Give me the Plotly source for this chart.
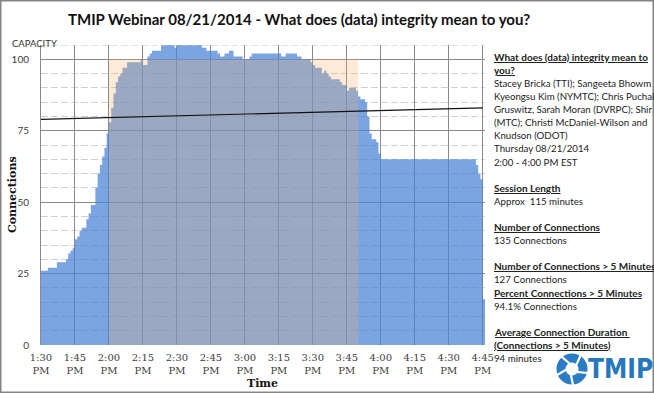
import math
import plotly.graph_objects as go
import pandas as pd

# ---------------- data ----------------
start_time = "2014-08-21 13:30"
# connections per minute, 1:30 PM .. 4:45 PM (one row per 15 minutes)
connections = [
    26, 26, 26, 27, 27, 27, 27, 29, 29, 29, 29, 30, 32, 33, 34,              # 1:30
    37, 38, 40, 41, 41, 44, 46, 49, 49, 55, 60, 63, 66, 69, 74,              # 1:45
    78, 83, 88, 92, 94, 95, 97, 97, 99, 99, 99, 99, 99, 99, 100,             # 2:00
    98, 98, 101, 102, 103, 103, 103, 103, 105, 105, 105, 105, 105, 105, 104, # 2:15
    105, 105, 105, 105, 105, 105, 105, 105, 105, 105, 105, 104, 104, 103, 103,  # 2:30
    103, 103, 103, 102, 101, 101, 102, 102, 103, 103, 101, 101, 101, 101, 100,  # 2:45
    100, 100, 101, 102, 102, 102, 102, 102, 102, 102, 102, 102, 102, 102, 102,  # 3:00
    102, 101, 101, 102, 102, 102, 102, 102, 101, 101, 100, 100, 100, 100, 99,   # 3:15
    98, 97, 97, 97, 95, 96, 95, 94, 93, 93, 93, 93, 92, 91, 91,              # 3:30
    89, 90, 90, 90, 89, 87, 86, 86, 85, 80, 74, 72, 72, 71, 67,              # 3:45
    65, 65, 65, 65, 65, 65, 65, 65, 65, 65, 65, 65, 65, 65, 65,              # 4:00
    65, 65, 65, 65, 65, 65, 65, 65, 65, 65, 65, 65, 65, 65, 65,              # 4:15
    65, 65, 65, 65, 65, 65, 65, 65, 65, 65, 65, 65, 63, 60, 58,              # 4:30
    16,                                                                      # 4:45
]
session_times = ["2014-08-21 14:00", "2014-08-21 15:50"]
session_level = 100
capacity = 105
trend_times = ["2014-08-21 13:30", "2014-08-21 16:45"]
trend_values = [79, 83]
axis_range = ["2014-08-21 13:30", "2014-08-21 16:46"]
y_ticks = [0, 25, 50, 75, 100]

title = "TMIP Webinar 08/21/2014 - What does (data) integrity mean to you?"
info_lines = [
    ("What does (data) integrity mean to", True),
    ("you?", True),
    ("Stacey Bricka (TTI); Sangeeta Bhowm", False),
    ("Kyeongsu Kim (NYMTC); Chris Puchal", False),
    ("Gruswitz, Sarah Moran (DVRPC); Shir", False),
    ("(MTC); Christi McDaniel-Wilson and", False),
    ("Knudson (ODOT)", False),
    ("Thursday 08/21/2014", False),
    ("2:00 - 4:00 PM EST", False),
    ("", False),
    ("Session Length", True),
    ("Approx  115 minutes", False),
    ("", False),
    ("Number of Connections", True),
    ("135 Connections", False),
    ("", False),
    ("Number of Connections > 5 Minutes", True),
    ("127 Connections", False),
    ("Percent Connections > 5 Minutes", True),
    ("94.1% Connections", False),
    ("", False),
    ("Average Connection Duration ", True),
    ("(Connections > 5 Minutes)", True),
    ("94 minutes", False),
]
logo_text = "TMIP"

# ---------------- figure ----------------
W, H = 654, 393
ML, MR, MT, MB = 41, 169, 45, 48
PW, PH = W - ML - MR, H - MT - MB

def px(x):  # pixel -> paper x
    return (x - ML) / PW

def py(y):  # pixel -> paper y
    return (H - MB - y) / PH

times = list(pd.date_range(start_time, periods=len(connections), freq="min"))
x_step = times + [pd.Timestamp(axis_range[1])]
y_step = connections + [connections[-1]]

fig = go.Figure()
fig.add_trace(go.Scatter(
    x=x_step, y=y_step, mode="lines", line=dict(width=0, shape="hv"),
    fill="tozeroy", fillcolor="rgba(72,130,214,0.72)", hoverinfo="skip",
    showlegend=False))
fig.add_trace(go.Scatter(
    x=[session_times[0], session_times[0], session_times[1], session_times[1]],
    y=[0, session_level, session_level, 0], mode="lines",
    line=dict(width=0), fill="toself", fillcolor="rgba(247,177,103,0.26)",
    hoverinfo="skip", showlegend=False))
fig.add_trace(go.Scatter(
    x=trend_times, y=trend_values, mode="lines",
    line=dict(color="#111111", width=1.2), hoverinfo="skip", showlegend=False))
fig.add_trace(go.Scatter(
    x=[axis_range[0], axis_range[1]], y=[capacity, capacity], mode="lines",
    line=dict(color="#C8C8C8", width=1, dash="7px,3px"), hoverinfo="skip",
    showlegend=False, cliponaxis=False))

grid = "#8A8A8A"
fig.update_layout(
    width=W, height=H, margin=dict(l=ML, r=MR, t=MT, b=MB),
    paper_bgcolor="white", plot_bgcolor="white",
    xaxis=dict(type="date", range=axis_range, tick0=start_time,
               dtick=15 * 60 * 1000, tickformat="%-I:%M<br>%p",
               showgrid=True, gridcolor=grid, gridwidth=1, zeroline=False,
               showline=False, ticks="", ticklabelstandoff=5,
               tickfont=dict(family="DejaVu Serif", size=10, color="#404040")),
    yaxis=dict(range=[0, capacity], tickvals=y_ticks, showgrid=True,
               gridcolor=grid, gridwidth=1, zeroline=False,
               showline=True, linecolor=grid, linewidth=1, ticks="",
               ticklabelstandoff=9,
               minor=dict(dtick=5, tick0=0, showgrid=True, gridcolor="#D0D0D0",
                          griddash="7px,3px", gridwidth=1),
               tickfont=dict(family="Lato", size=10, color="#404040")),
)

ann = []
ann.append(dict(text="<b>" + title + "</b>", x=px(299), y=py(19), xref="paper", yref="paper",
                showarrow=False, xanchor="center", yanchor="middle",
                font=dict(family="Lato", size=15, color="#111111")))
ann.append(dict(text="CAPACITY", x=px(10), y=py(43), xref="paper", yref="paper",
                showarrow=False, xanchor="left", yanchor="middle",
                font=dict(family="Lato", size=9.5, color="#333333")))
ann.append(dict(text="<b>Connections</b>", x=px(12), y=0.5, xref="paper", yref="paper",
                showarrow=False, textangle=-90, xanchor="center", yanchor="middle",
                font=dict(family="DejaVu Serif", size=11, color="#111111")))
ann.append(dict(text="<b>Time</b>", x=px(262), y=py(383), xref="paper", yref="paper",
                showarrow=False, xanchor="center", yanchor="middle",
                font=dict(family="DejaVu Serif", size=11, color="#111111")))
for i, (txt, hdr) in enumerate(info_lines):
    if not txt:
        continue
    if hdr:
        t = "<b><span style='text-decoration:underline'>" + txt + "</span></b>"
        fs = 10
    else:
        t = txt
        fs = 9.7
    ann.append(dict(text=t, x=px(492), y=py(56.7 + 13.1 * i), xref="paper", yref="paper",
                    showarrow=False, xanchor="left", yanchor="middle",
                    font=dict(family="Lato", size=fs, color="#222222")))
# logo text
ann.append(dict(text="<b>" + logo_text + "</b>", x=px(586), y=py(369), xref="paper", yref="paper",
                showarrow=False, xanchor="left", yanchor="middle",
                font=dict(family="DejaVu Sans Condensed", size=26, color="#2577BE")))
fig.update_layout(annotations=ann)

shapes = []
# logo icon: blue wheel with white centre and white spokes
cx, cy, r = 572, 369, 15.5
shapes.append(dict(type="circle", xref="paper", yref="paper",
                   x0=px(cx - r), x1=px(cx + r), y0=py(cy + r), y1=py(cy - r),
                   fillcolor="#2A7CC4", line=dict(width=0)))
for k in range(5):
    a = math.radians(90 + 72 * k + 20)
    shapes.append(dict(type="line", xref="paper", yref="paper",
                       x0=px(cx + 5 * math.cos(a)), y0=py(cy - 5 * math.sin(a)),
                       x1=px(cx + (r + 1) * math.cos(a + 0.35)),
                       y1=py(cy - (r + 1) * math.sin(a + 0.35)),
                       line=dict(color="white", width=2.2)))
shapes.append(dict(type="circle", xref="paper", yref="paper",
                   x0=px(cx - 6.5), x1=px(cx + 6.5), y0=py(cy + 6.5), y1=py(cy - 6.5),
                   fillcolor="white", line=dict(width=0)))
# chart border
shapes.append(dict(type="rect", xref="paper", yref="paper",
                   x0=px(0.75), x1=px(W - 0.75), y0=py(H - 0.75), y1=py(0.75),
                   line=dict(color="#858585", width=1.5), fillcolor="rgba(0,0,0,0)"))
fig.update_layout(shapes=shapes)

fig.write_html("out.html")
